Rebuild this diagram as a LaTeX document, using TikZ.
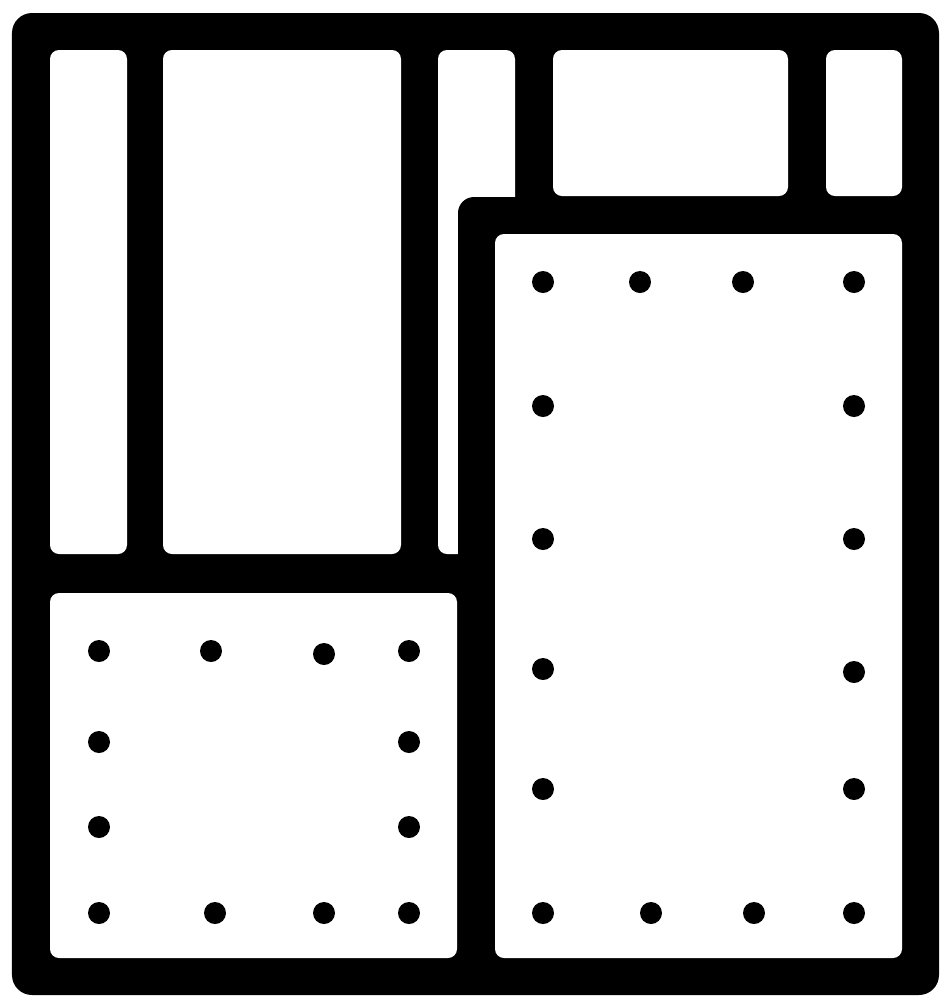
\documentclass[tikz,border=0pt]{standalone}
\begin{document}
\begin{tikzpicture}[x=0.01cm,y=-0.01cm,
  hole/.style={fill=white, rounded corners=0.09cm},
  frame/.style={fill=black, rounded corners=0.2cm},
  rivet/.style={fill=black}]
\useasboundingbox (0,0) rectangle (949,1005);
\fill[frame] (12,13) rectangle (939,995);
\fill[hole] (50,50) rectangle (127,554);
\fill[hole] (163,50) rectangle (401,554);
\fill[hole] (438,50) rectangle (515,554);
\fill[hole] (553,50) rectangle (788,196);
\fill[hole] (826,50) rectangle (902,196);
\fill[hole] (50,593) rectangle (457,958);
\fill[frame, rounded corners=0.16cm] (458,197) rectangle (925,980);
\fill[hole] (495,234) rectangle (902,958);
\fill[rivet] (99,651) circle (11);
\fill[rivet] (211,651) circle (11);
\fill[rivet] (324,654) circle (11);
\fill[rivet] (409,651) circle (11);
\fill[rivet] (99,742) circle (11);
\fill[rivet] (409,742) circle (11);
\fill[rivet] (99,827) circle (11);
\fill[rivet] (409,827) circle (11);
\fill[rivet] (99,913) circle (11);
\fill[rivet] (215,913) circle (11);
\fill[rivet] (324,913) circle (11);
\fill[rivet] (409,913) circle (11);
\fill[rivet] (543,282) circle (11);
\fill[rivet] (640,282) circle (11);
\fill[rivet] (743,282) circle (11);
\fill[rivet] (854,282) circle (11);
\fill[rivet] (543,406) circle (11);
\fill[rivet] (854,406) circle (11);
\fill[rivet] (543,539) circle (11);
\fill[rivet] (854,539) circle (11);
\fill[rivet] (543,669) circle (11);
\fill[rivet] (854,672) circle (11);
\fill[rivet] (543,789) circle (11);
\fill[rivet] (854,789) circle (11);
\fill[rivet] (543,913) circle (11);
\fill[rivet] (651,913) circle (11);
\fill[rivet] (754,913) circle (11);
\fill[rivet] (854,913) circle (11);
\end{tikzpicture}
\end{document}
